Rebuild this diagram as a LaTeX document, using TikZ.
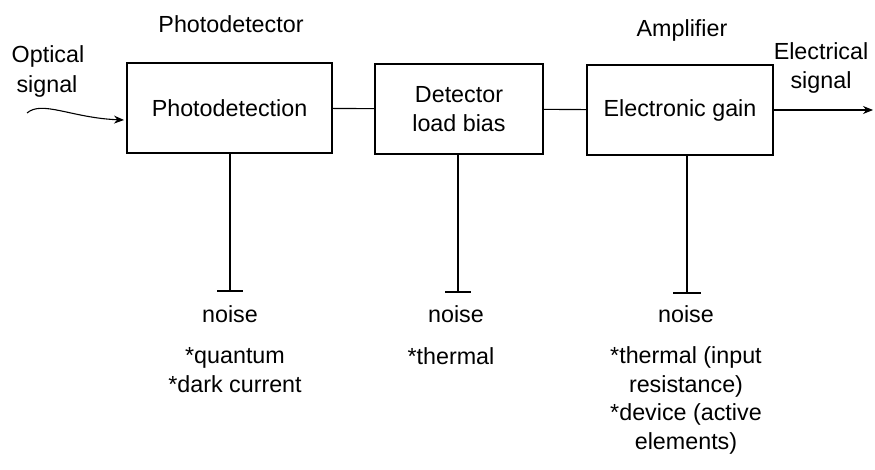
\documentclass[tikz,border=0pt]{standalone}
\usepackage{fontspec}
\setmainfont{Liberation Sans}
\usetikzlibrary{arrows.meta}
\begin{document}
\begin{tikzpicture}[x=1pt, y=-1pt, line width=1.1pt, >={Stealth[length=10pt,width=8pt]},
		font=\fontsize{23.3}{28.5}\selectfont,
		blk/.style={draw, minimum height=90pt, inner sep=0pt, align=center},
		lbl/.style={anchor=base, inner sep=0pt, align=center}]
			\useasboundingbox (0,0) rectangle (875,470);
			\node[blk, minimum width=205pt] (det) at (229.5,108) {Photodetection};
			\node[blk, minimum width=168pt] (bias) at (459,109) {Detector\\load bias};
			\node[blk, minimum width=186pt] (amp) at (680,110) {Electronic gain};
			\draw (det) -- (bias);
			\draw (bias) -- (amp);
			\coordinate (out) at (873,110);
			\draw[->] (amp) -- (out);
			\coordinate (in) at (27,113);
			\coordinate (inend) at (124,120);
			\draw[->] (in) .. controls (42,100) and (72,118) .. (inend);
			\node[lbl] (optical) at (48,63) {Optical};
			\node[lbl] (signalin) at (47,93) {signal};
			\node[lbl] (electrical) at (821,60) {Electrical};
			\node[lbl] (signalout) at (821,89) {signal};
			\node[lbl] (pdtitle) at (231,33) {Photodetector};
			\node[lbl] (amptitle) at (682,37) {Amplifier};
			% noise taps
			\coordinate (t1) at (230,291);
			\coordinate (t2) at (458,292);
			\coordinate (t3) at (687,293);
			\draw (det.south -| t1) -- (t1);
			\draw (bias.south -| t2) -- (t2);
			\draw (amp.south -| t3) -- (t3);
			\draw ([xshift=-13pt]t1) -- ([xshift=13pt]t1);
			\draw ([xshift=-13pt]t2) -- ([xshift=13pt]t2);
			\draw ([xshift=-14pt]t3) -- ([xshift=14pt]t3);
			\node[lbl] (noise1) at (230,322) {noise};
			\node[lbl] (noise2) at (456,322) {noise};
			\node[lbl] (noise3) at (686,322) {noise};
			% base of a multi-line node is its last line
			\node[lbl] (src1) at (235,392) {*quantum\\*dark current};
			\node[lbl] (src2) at (451,364) {*thermal};
			\node[lbl] (src3) at (686,449) {*thermal (input\\resistance)\\*device (active\\elements)};
		\end{tikzpicture}
\end{document}
